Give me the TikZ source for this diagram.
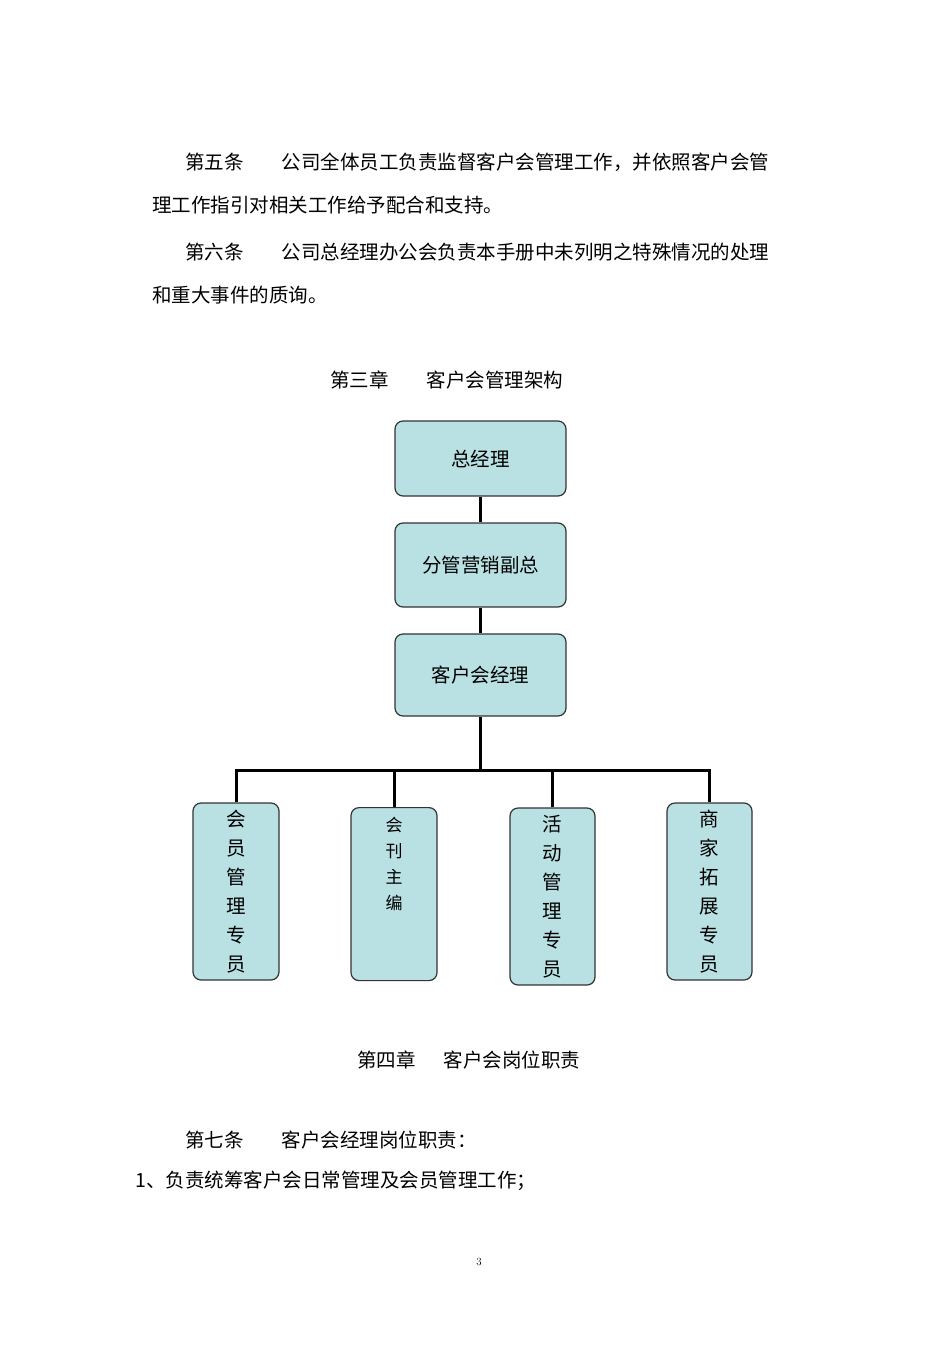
\documentclass[tikz,border=0pt]{standalone}
\usepackage{fontspec}
\newfontfamily\cjk{Noto Sans CJK SC}
\definecolor{boxfill}{RGB}{185,224,226}
\begin{document}
\begin{tikzpicture}[x=1pt,y=-1pt,
  txt/.style={anchor=west,inner sep=0pt,font=\cjk\fontsize{19.5}{20}\selectfont},
  box/.style={draw=black!80,line width=1.2pt,fill=boxfill,rounded corners=8pt,inner sep=0pt,font=\cjk\fontsize{19.5}{20}\selectfont},
  link/.style={line width=3pt}]
\useasboundingbox (0,0) rectangle (950,1346);
\node[txt] (p1) at (185,162) {第五条\hspace{38pt}公司全体员工负责监督客户会管理工作，并依照客户会管};
\node[txt] (p2) at (152,205) {理工作指引对相关工作给予配合和支持。};
\node[txt] (p3) at (185,252) {第六条\hspace{38pt}公司总经理办公会负责本手册中未列明之特殊情况的处理};
\node[txt] (p4) at (152,295) {和重大事件的质询。};
\node[txt] (h3) at (330,380) {第三章\hspace{38pt}客户会管理架构};
\node[box,minimum width=171pt,minimum height=75pt] (a) at (480.5,458.5) {总经理};
\node[box,minimum width=171pt,minimum height=84pt] (b) at (480.5,565) {分管营销副总};
\node[box,minimum width=171pt,minimum height=82pt] (c) at (480.5,675) {客户会经理};
\node[box,minimum width=86pt,minimum height=177pt,align=center,font=\cjk\fontsize{19.5}{29}\selectfont] (d1) at (236,891.5) {会\\员\\管\\理\\专\\员};
\node[box,minimum width=86pt,minimum height=173pt,align=center,anchor=north,font=\cjk\fontsize{17}{26}\selectfont] (d2) at (394,807) {\\[-8pt]会\\刊\\主\\编\\[40pt]};
\node[box,minimum width=85pt,minimum height=177pt,align=center,font=\cjk\fontsize{19.5}{29}\selectfont] (d3) at (552.5,896.5) {活\\动\\管\\理\\专\\员};
\node[box,minimum width=85pt,minimum height=177pt,align=center,font=\cjk\fontsize{19.5}{29}\selectfont] (d4) at (709.5,891.5) {商\\家\\拓\\展\\专\\员};
\coordinate (j) at (480.5,770);
\draw[link] (a) -- (b);
\draw[link] (b) -- (c);
\draw[link] (c.south) -- (j);
\draw[link] (d1.north) |- (j);
\draw[link] (d2.north) |- (j);
\draw[link] (d3.north) |- (j);
\draw[link] (d4.north) |- (j);
\node[txt] (h4) at (357,1060) {第四章\hspace{28pt}客户会岗位职责};
\node[txt] (p7) at (185,1140) {第七条\hspace{38pt}客户会经理岗位职责：};
\node[txt] (p8) at (135,1181) {1、负责统筹客户会日常管理及会员管理工作；};
\node[anchor=center,inner sep=0pt,font=\fontsize{11}{12}\selectfont] (pg) at (479,1262) {3};
\end{tikzpicture}
\end{document}
